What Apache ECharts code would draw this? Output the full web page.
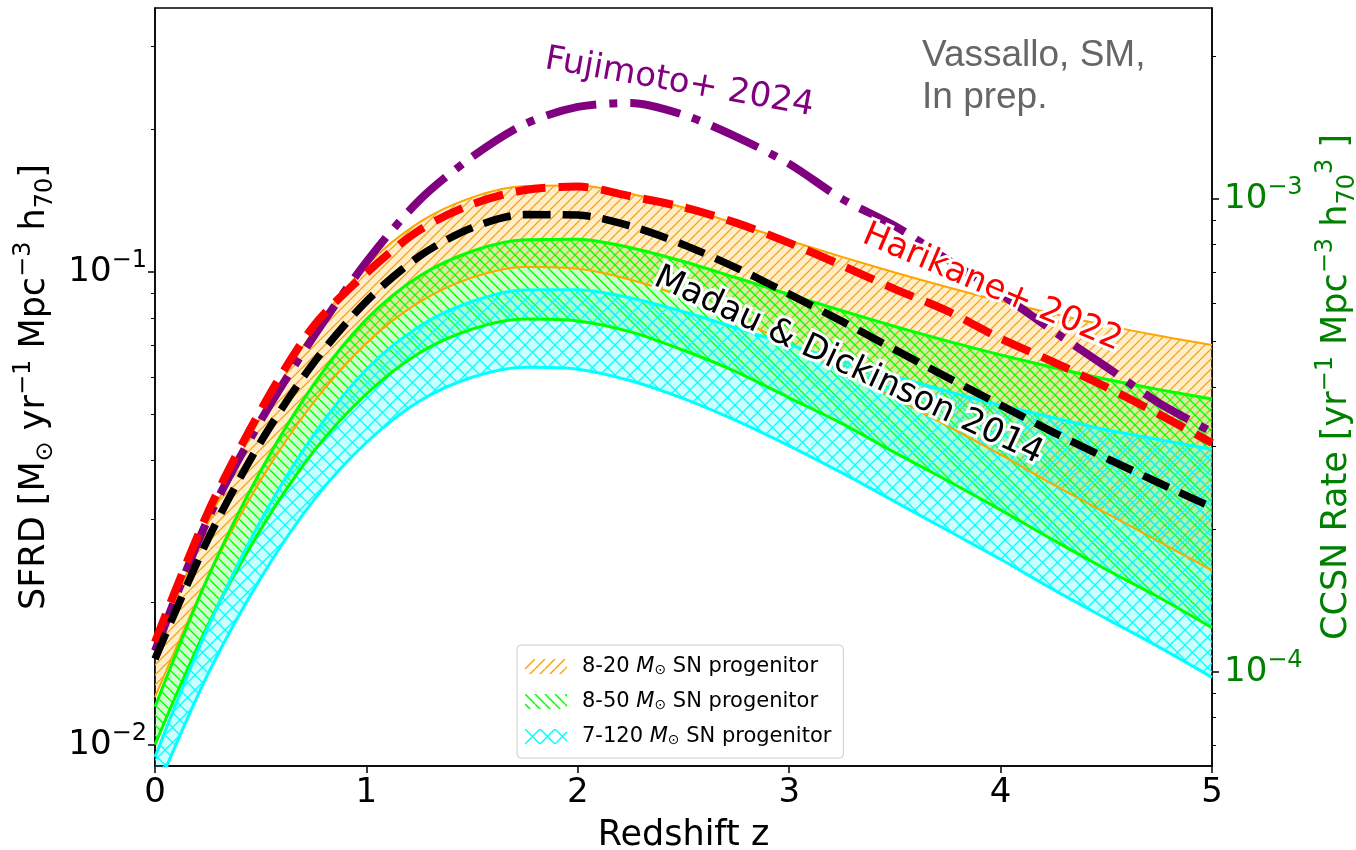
<!DOCTYPE html>
<html>
<head>
<meta charset="utf-8">
<script src="https://cdn.jsdelivr.net/npm/echarts@6/dist/echarts.min.js"></script>
<style>
  html, body { margin: 0; padding: 0; background: #fff; }
  #chart { width: 1356px; height: 850px; }
</style>
</head>
<body>
<div id="chart"></div>
<script>
// redshift samples
const redshift = [0, 0.25, 0.5, 0.75, 1, 1.25, 1.5, 1.75, 2, 2.25, 2.5, 2.75, 3, 3.25, 3.5, 3.75, 4, 4.25, 4.5, 4.75, 5]

// SFRD curves [Msun / yr / Mpc^3]
const madauDickinson = [0.0152, 0.0272, 0.0437, 0.0642, 0.0867, 0.1079, 0.124, 0.1322, 0.1319, 0.125, 0.1142, 0.102, 0.0898, 0.0786, 0.0685, 0.0598, 0.0523, 0.0458, 0.0404, 0.0358, 0.0318]
const harikane = [0.0165, 0.031, 0.051, 0.0768, 0.0995, 0.1225, 0.139, 0.149, 0.1515, 0.1445, 0.137, 0.127, 0.1152, 0.1032, 0.092, 0.0826, 0.0723, 0.0645, 0.0571, 0.05, 0.0435]
const fujimoto = [0.0158, 0.03, 0.0485, 0.073, 0.105, 0.1417, 0.175, 0.2055, 0.2233, 0.2276, 0.2148, 0.193, 0.1692, 0.1427, 0.1251, 0.106, 0.0899, 0.075, 0.063, 0.0528, 0.0459]

// progenitor bands (upper / lower edge)
const band820Upper = [0.01566, 0.0294, 0.0494, 0.0751, 0.1032, 0.1273, 0.1438, 0.152, 0.1523, 0.1463, 0.1368, 0.1264, 0.1165, 0.1076, 0.0997, 0.0928, 0.0868, 0.0816, 0.0771, 0.0733, 0.0701]
const band820Lower = [0.01262, 0.02258, 0.03627, 0.05297, 0.07066, 0.0863, 0.0973, 0.1025, 0.1016, 0.0963, 0.0885, 0.0796, 0.0705, 0.0621, 0.0541, 0.0472, 0.0411, 0.0355, 0.0309, 0.0269, 0.0234]
const band850Upper = [0.01205, 0.0226, 0.038, 0.0578, 0.0794, 0.0979, 0.1106, 0.1169, 0.1172, 0.1125, 0.1052, 0.0972, 0.0896, 0.0828, 0.0767, 0.0714, 0.0668, 0.0628, 0.0593, 0.0564, 0.0539]
const band850Lower = [0.01002, 0.01792, 0.02856, 0.0417, 0.0552, 0.0674, 0.0757, 0.0795, 0.0788, 0.0747, 0.0683, 0.0615, 0.0542, 0.0478, 0.0415, 0.0362, 0.0314, 0.0271, 0.0235, 0.0205, 0.0177]
const band7120Upper = [0.00943, 0.0177, 0.0298, 0.0452, 0.0622, 0.0767, 0.0866, 0.0916, 0.0917, 0.0881, 0.0824, 0.0761, 0.0702, 0.0648, 0.0601, 0.0559, 0.0523, 0.0492, 0.0464, 0.0442, 0.0422]
const band7120Lower = [0.00789, 0.01411, 0.02253, 0.0329, 0.0436, 0.0533, 0.0599, 0.0629, 0.0623, 0.0589, 0.054, 0.0485, 0.0429, 0.0376, 0.0327, 0.0284, 0.0247, 0.0213, 0.0185, 0.0161, 0.0139]

// ticks
const xTicks = [0, 1, 2, 3, 4, 5]
const sfrdMajor = [0.01, 0.1]
const sfrdMinor = [0.02, 0.03, 0.04, 0.05, 0.06, 0.07, 0.08, 0.09, 0.2, 0.3]
const ccsnMajor = [1e-4, 1e-3]
const ccsnMinor = [7e-5, 8e-5, 9e-5, 2e-4, 3e-4, 4e-4, 5e-4, 6e-4, 7e-4, 8e-4, 9e-4, 2e-3]

// axis ranges
const sfrdMin = 0.009028
const sfrdMax = 0.3614
const ccsnPerMass = 0.007 // CCSN per Msun formed

const FONT = '"DejaVu Sans"'
const lg = Math.log10

// hatch pattern tile, like matplotlib hatch='//', '\\\\', 'xx'
const hatchTile = (kind, stroke, fill, size, lineWidth) => {
  const c = document.createElement('canvas')
  c.width = size
  c.height = size
  const g = c.getContext('2d')
  if (fill) {
    g.fillStyle = fill
    g.fillRect(0, 0, size, size)
  }
  g.strokeStyle = stroke
  g.lineWidth = lineWidth
  g.beginPath()
  for (const o of [-size, 0, size]) {
    if (kind.indexOf('/') >= 0) { g.moveTo(o, size); g.lineTo(o + size, 0) }
    if (kind.indexOf('\\') >= 0) { g.moveTo(o, 0); g.lineTo(o + size, size) }
  }
  g.stroke()
  return { image: c, repeat: 'repeat' }
}

const bands = [
  { name: '8-20', upper: band820Upper, lower: band820Lower, color: '#ffa500', hatch: '/', tile: 10, fill: 'rgba(255,165,0,0.2)', width: 2 },
  { name: '8-50', upper: band850Upper, lower: band850Lower, color: '#00ff00', hatch: '\\', tile: 10, fill: 'rgba(0,255,0,0.2)', width: 3 },
  { name: '7-120', upper: band7120Upper, lower: band7120Lower, color: '#00ffff', hatch: 'x/\\', tile: 15, fill: 'rgba(0,255,255,0.2)', width: 3 },
]

// band series: value first, redshift second, so the stack runs on the y value
const series = []
bands.forEach((b, i) => {
  const common = {
    type: 'line',
    stack: 'band' + i,
    stackStrategy: 'all',
    encode: { x: 1, y: 0 },
    smooth: 0.3,
    showSymbol: false,
    lineStyle: { color: b.color, width: b.width },
    itemStyle: { color: b.color },
    z: 2,
  }
  series.push({
    ...common,
    name: b.name + ' lower',
    data: redshift.map((z, j) => [lg(b.lower[j]), z]),
  })
  series.push({
    ...common,
    name: b.name,
    data: redshift.map((z, j) => [lg(b.upper[j]) - lg(b.lower[j]), z]),
    areaStyle: { color: hatchTile(b.hatch, b.color, b.fill, b.tile, 1.3), opacity: 1 },
  })
})

const curves = [
  { name: 'Fujimoto+ 2024', data: fujimoto, color: '#800080', width: 8, dash: [51, 13, 8, 13] },
  { name: 'Harikane+ 2022', data: harikane, color: '#ff0000', width: 8, dash: [30, 13] },
  { name: 'Madau & Dickinson 2014', data: madauDickinson, color: '#000000', width: 7.5, dash: [28, 12] },
]
const firstCurve = series.length
curves.forEach((c) => {
  series.push({
    name: c.name,
    type: 'line',
    data: redshift.map((z, j) => [z, lg(c.data[j])]),
    smooth: 0.3,
    showSymbol: false,
    lineStyle: { color: c.color, width: c.width, type: c.dash, cap: 'butt' },
    itemStyle: { color: c.color },
    z: 3,
  })
})

const powLabel = (v) => `{b|10}{e|−${Math.abs(Math.round(v))}}`
const powRich = (color) => ({
  b: { fontSize: 34, lineHeight: 46, fontFamily: FONT, color: color },
  e: { fontSize: 24, lineHeight: 24, fontFamily: FONT, color: color, verticalAlign: 'top' },
})
const nameRich = (color) => ({
  sup: { fontSize: 24, lineHeight: 22, fontFamily: FONT, color: color, verticalAlign: 'top' },
  sub: { fontSize: 24, lineHeight: 22, fontFamily: FONT, color: color, verticalAlign: 'bottom' },
})

const logMin = lg(sfrdMin)
const logMax = lg(sfrdMax)
const rMin = logMin + lg(ccsnPerMass)
const rMax = logMax + lg(ccsnPerMass)

const tickStyle = { color: '#000', width: 1.5 }

const chart = echarts.init(document.getElementById('chart'))

chart.setOption({
  animation: false,
  grid: {
    left: 155, right: 144, top: 8, bottom: 84,
    outerBoundsMode: 'none',
    show: true, borderColor: '#000', borderWidth: 1.5,
  },
  legend: {
    orient: 'vertical',
    left: 517,
    top: 645,
    data: bands.map((b) => ({ name: b.name, itemStyle: { color: hatchTile(b.hatch, b.color, null, b.tile, 1.5) } })),
    icon: 'rect',
    itemWidth: 42,
    itemHeight: 15,
    itemGap: 14,
    padding: [11, 12, 11, 8],
    backgroundColor: 'rgba(255,255,255,0.8)',
    borderColor: '#cccccc',
    borderWidth: 1,
    borderRadius: 4,
    selectedMode: false,
    formatter: (name) => `${name} {i|M}{s|⊙} SN progenitor`,
    textStyle: {
      fontSize: 21,
      fontFamily: FONT,
      color: '#000',
      padding: [0, 0, 0, 10],
      rich: {
        i: { fontSize: 21, fontStyle: 'italic', fontFamily: FONT, color: '#000' },
        s: { fontSize: 14, fontFamily: FONT, color: '#000', verticalAlign: 'bottom', lineHeight: 16 },
      },
    },
  },
  xAxis: {
    type: 'value',
    min: 0,
    max: 5,
    interval: 1,
    name: 'Redshift z',
    nameLocation: 'middle',
    nameGap: 52,
    nameTextStyle: { fontSize: 35, fontFamily: FONT, color: '#000' },
    axisLine: { lineStyle: tickStyle },
    axisTick: { length: 7, lineStyle: tickStyle, customValues: xTicks },
    axisLabel: { fontSize: 34, fontFamily: FONT, color: '#000', margin: 10, customValues: xTicks },
    splitLine: { show: false },
  },
  yAxis: [
    {
      type: 'value',
      position: 'left',
      min: logMin,
      max: logMax,
      name: 'SFRD [M{sub|⊙} yr{sup|−1} Mpc{sup|−3} h{sub|70}]',
      nameLocation: 'middle',
      nameRotate: 90,
      nameGap: 83,
      nameTextStyle: { fontSize: 35, lineHeight: 46, fontFamily: FONT, color: '#000', rich: nameRich('#000') },
      axisLine: { show: true, lineStyle: tickStyle },
      axisTick: { length: 7, lineStyle: tickStyle, customValues: sfrdMajor.map(lg) },
      axisLabel: { margin: 8, customValues: sfrdMajor.map(lg), formatter: powLabel, rich: powRich('#000') },
      splitLine: { show: false },
    },
    {
      type: 'value',
      position: 'right',
      min: rMin,
      max: rMax,
      name: 'CCSN Rate [yr{sup|−1} Mpc{sup|−3} h{sub|70}{sup|3} ]',
      nameLocation: 'middle',
      nameRotate: 90,
      nameGap: 100,
      nameTextStyle: { fontSize: 35, lineHeight: 46, fontFamily: FONT, color: '#008000', rich: nameRich('#008000') },
      axisLine: { show: true, lineStyle: tickStyle },
      axisTick: { length: 7, lineStyle: tickStyle, customValues: ccsnMajor.map(lg) },
      axisLabel: { margin: 12, customValues: ccsnMajor.map(lg), formatter: powLabel, rich: powRich('#008000') },
      splitLine: { show: false },
    },
    {
      type: 'value',
      position: 'left',
      min: logMin,
      max: logMax,
      axisLine: { show: false },
      axisTick: { length: 4, lineStyle: { color: '#000', width: 1 }, customValues: sfrdMinor.map(lg) },
      axisLabel: { show: false },
      splitLine: { show: false },
    },
    {
      type: 'value',
      position: 'right',
      min: rMin,
      max: rMax,
      axisLine: { show: false },
      axisTick: { length: 4, lineStyle: { color: '#000', width: 1 }, customValues: ccsnMinor.map(lg) },
      axisLabel: { show: false },
      splitLine: { show: false },
    },
  ],
  series: series,
})

// curve names written along the curves, anchored in data coordinates
const notes = [
  { text: 'Fujimoto+ 2024', z: 2.48, v: 0.251, angle: 10, color: '#800080' },
  { text: 'Harikane+ 2022', z: 3.96, v: 0.0925, angle: 23, color: '#ff0000' },
  { text: 'Madau & Dickinson 2014', z: 3.28, v: 0.0633, angle: 25, color: '#000000' },
]
const graphics = []
notes.forEach((n) => {
  const p = chart.convertToPixel({ seriesIndex: firstCurve }, [n.z, lg(n.v)])
  const base = { type: 'text', x: p[0], y: p[1], rotation: -n.angle * Math.PI / 180, silent: true }
  const font = '34px ' + FONT
  graphics.push({ ...base, z: 10, style: { text: n.text, font: font, align: 'center', verticalAlign: 'middle', fill: '#fff', stroke: '#fff', lineWidth: 6 } })
  graphics.push({ ...base, z: 11, style: { text: n.text, font: font, align: 'center', verticalAlign: 'middle', fill: n.color } })
})
graphics.push({
  type: 'text',
  x: 922,
  y: 35,
  z: 11,
  silent: true,
  style: { text: 'Vassallo, SM,\nIn prep.', font: '37px "Liberation Sans"', lineHeight: 42, fill: '#666666', align: 'left', verticalAlign: 'top' },
})
chart.setOption({ graphic: graphics })
</script>
</body>
</html>
